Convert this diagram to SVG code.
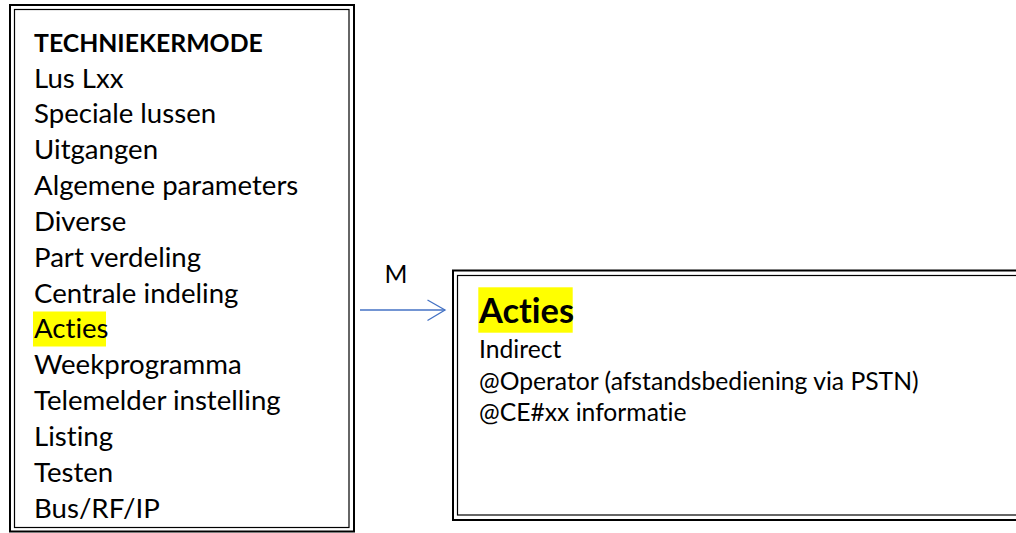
<svg xmlns="http://www.w3.org/2000/svg" width="1016" height="533" viewBox="0 0 1016 533">
  <style>
    text { font-family: Lato, "Liberation Sans", sans-serif; fill: #000; font-variant-ligatures: none; }
    .frame-outer { fill: none; stroke: #000; stroke-width: 2; }
    .frame-inner { fill: none; stroke: #000; stroke-width: 1.2; }
    .menu { font-size: 27.6px; }
    .title { font-size: 24.8px; font-weight: bold; }
    .body { font-size: 24.7px; }
    .head { font-size: 34.4px; font-weight: bold; }
    .mark { fill: #ffff00; }
    .link { fill: none; stroke: #4472c4; stroke-width: 1.3; }
  </style>
  <rect width="1016" height="533" fill="#fff"/>

  <!-- main menu list -->
  <g id="menu">
    <rect class="frame-outer" x="10" y="5" width="344" height="526.5"/>
    <rect class="frame-inner" x="14.5" y="9.5" width="334.5" height="518"/>
    <rect class="mark" x="33" y="311.5" width="73" height="35"/>
    <text class="title" x="34" y="52">TECHNIEKERMODE</text>
    <text class="menu" x="34" y="87.5">Lus Lxx</text>
    <text class="menu" x="34" y="123.3">Speciale lussen</text>
    <text class="menu" x="34" y="159.2">Uitgangen</text>
    <text class="menu" x="34" y="195">Algemene parameters</text>
    <text class="menu" x="34" y="230.8">Diverse</text>
    <text class="menu" x="34" y="266.7">Part verdeling</text>
    <text class="menu" x="34" y="302.5">Centrale indeling</text>
    <text class="menu" x="34" y="338.3">Acties</text>
    <text class="menu" x="34" y="374.2">Weekprogramma</text>
    <text class="menu" x="34" y="410">Telemelder instelling</text>
    <text class="menu" x="34" y="445.8">Listing</text>
    <text class="menu" x="34" y="481.7">Testen</text>
    <text class="menu" x="34" y="517.5">Bus/RF/IP</text>
  </g>

  <!-- submenu for Acties -->
  <g id="acties">
    <rect class="frame-outer" x="453" y="270.5" width="580" height="249.5"/>
    <rect class="frame-inner" x="457.5" y="275.5" width="570" height="239.5"/>
    <rect class="mark" x="478.3" y="287.3" width="94.4" height="45.4"/>
    <text class="head" x="479" y="323">Acties</text>
    <text class="body" x="479" y="358">Indirect</text>
    <text class="body" x="479" y="389.5">@Operator (afstandsbediening via PSTN)</text>
    <text class="body" x="479" y="421">@CE#xx informatie</text>
  </g>

  <!-- connector -->
  <g id="connectors">
    <line class="link" x1="360" y1="310" x2="445" y2="310"/>
    <polyline class="link" points="427.5,300 445,310 427.5,320.5"/>
    <text class="body" x="396" y="283" text-anchor="middle">M</text>
  </g>
</svg>
